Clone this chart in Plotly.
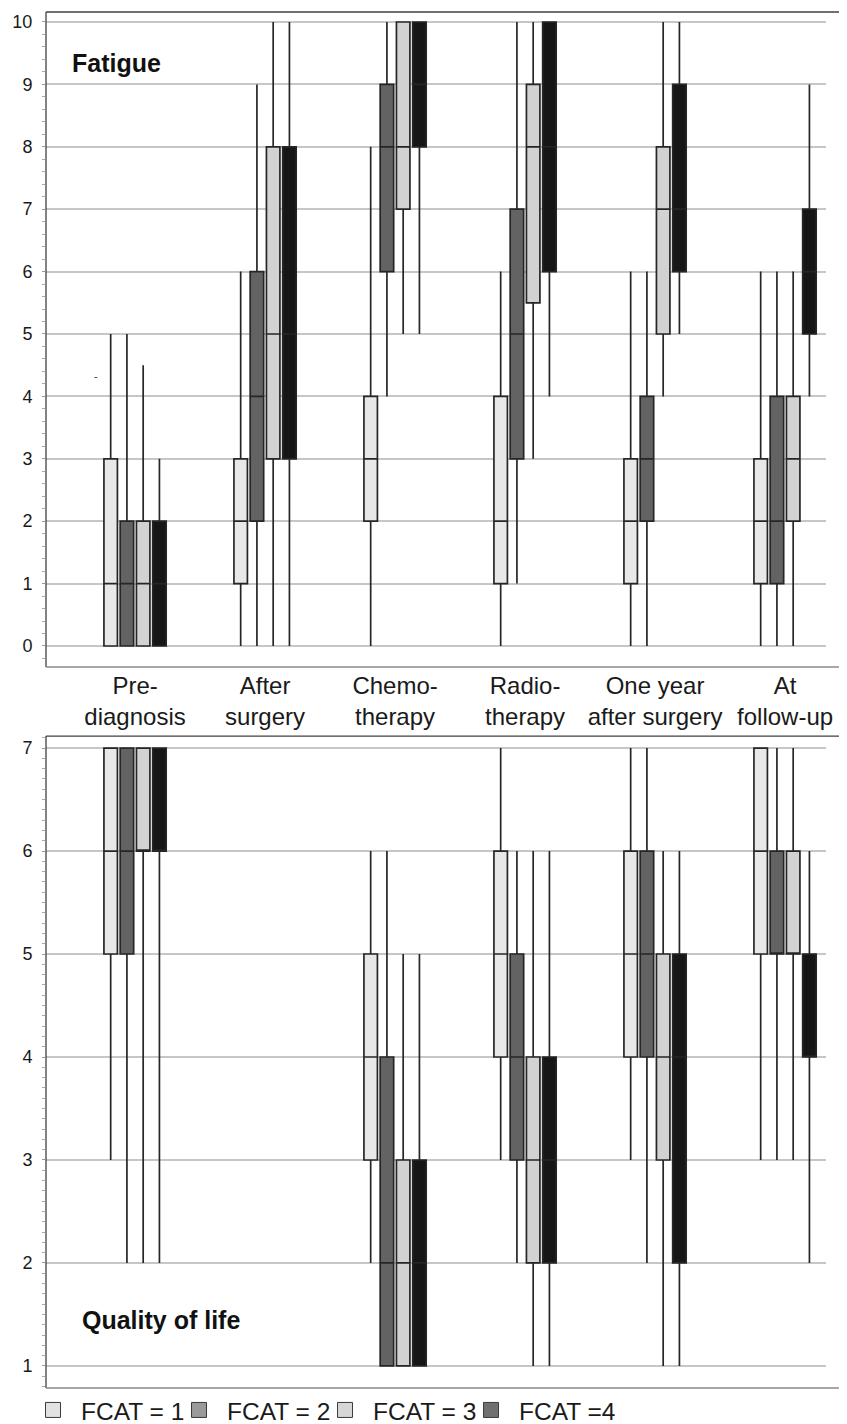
import plotly.graph_objects as go

# ---------------- data ----------------
categories = ["Pre-<br>diagnosis", "After<br>surgery", "Chemo-<br>therapy",
              "Radio-<br>therapy", "One year<br>after surgery", "At<br>follow-up"]
positions = [0, 1, 2, 3, 4, 5]
fcat_names = ["FCAT = 1", "FCAT = 2", "FCAT = 3", "FCAT =4"]

# Fatigue (0-10), one list per FCAT group, one value per category
fat_low = [[0, 0, 0, 0, 0, 0], [0, 0, 4, 1, 0, 0], [0, 0, 5, 3, 4, 0], [0, 0, 5, 4, 5, 4]]
fat_q1 = [[0, 1, 2, 1, 1, 1], [0, 2, 6, 3, 2, 1], [0, 3, 7, 5.5, 5, 2], [0, 3, 8, 6, 6, 5]]
fat_med = [[1, 2, 3, 2, 2, 2], [1, 4, 8, 5, 3, 2], [1, 5, 8, 8, 7, 3], [1, 5, 9, 8, 7, 6]]
fat_q3 = [[3, 3, 4, 4, 3, 3], [2, 6, 9, 7, 4, 4], [2, 8, 10, 9, 8, 4], [2, 8, 10, 10, 9, 7]]
fat_high = [[5, 6, 8, 6, 6, 6], [5, 9, 10, 10, 6, 6], [4.5, 10, 10, 10, 10, 6], [3, 10, 10, 10, 10, 9]]

# Quality of life (1-7); no data after surgery
qol_low = [[3, None, 2, 3, 3, 3], [2, None, 1, 2, 2, 3], [2, None, 1, 1, 1, 3], [2, None, 1, 1, 1, 2]]
qol_q1 = [[5, None, 3, 4, 4, 5], [5, None, 1, 3, 4, 5], [6, None, 1, 2, 3, 5], [6, None, 1, 2, 2, 4]]
qol_med = [[6, None, 4, 5, 5, 6], [6, None, 2, 4, 5, 5], [6, None, 2, 3, 4, 5], [6, None, 2, 3, 4, 4]]
qol_q3 = [[7, None, 5, 6, 6, 7], [7, None, 4, 5, 6, 6], [7, None, 3, 4, 5, 6], [7, None, 3, 4, 5, 5]]
qol_high = [[7, None, 6, 7, 7, 7], [7, None, 6, 6, 7, 7], [7, None, 5, 6, 6, 7], [7, None, 5, 6, 6, 6]]

fat_ticks = list(range(0, 11))
qol_ticks = list(range(1, 8))

# ---------------- styles ----------------
box_fill = ["#e8e8e8", "#636363", "#d2d2d2", "#161616"]
legend_fill = ["#e2e2e2", "#9a9a9a", "#d6d6d6", "#707070"]
legend_widths = [85, 85, 85, 120]
FONT = "Liberation Sans, Arial, sans-serif"

fig = go.Figure()


def add_boxes(low, q1, med, q3, high, xref, yref, group):
    for g in range(4):
        idx = [i for i in range(len(positions)) if q1[g][i] is not None]
        fig.add_trace(go.Box(
            x=[positions[i] for i in idx],
            lowerfence=[low[g][i] for i in idx],
            q1=[q1[g][i] for i in idx],
            median=[med[g][i] for i in idx],
            q3=[q3[g][i] for i in idx],
            upperfence=[high[g][i] for i in idx],
            name=fcat_names[g], showlegend=False,
            alignmentgroup=group, offsetgroup=str(g),
            fillcolor=box_fill[g],
            line=dict(color="#262626", width=1.7),
            whiskerwidth=0, boxpoints=False, hoverinfo="skip",
            xaxis=xref, yaxis=yref,
        ))


add_boxes(fat_low, fat_q1, fat_med, fat_q3, fat_high, "x", "y", "fatigue")
add_boxes(qol_low, qol_q1, qol_med, qol_q3, qol_high, "x2", "y2", "qol")

# legend swatches
for g in range(4):
    fig.add_trace(go.Scatter(
        x=[None], y=[None], mode="markers", name=fcat_names[g],
        marker=dict(symbol="square", size=15, color=legend_fill[g],
                    line=dict(color="#3a3a3a", width=1)),
        xaxis="x", yaxis="y", showlegend=True, legendwidth=legend_widths[g],
    ))

xr = [-0.685, 5.315]
common_y = dict(
    showgrid=True, gridcolor="#c6c6c6", gridwidth=1.5, zeroline=False,
    ticks="outside", ticklen=3, tickcolor="#999", tickwidth=1,
    tickfont=dict(family=FONT, size=18, color="#1a1a1a"),
    ticklabelstandoff=6, showline=False,
)

# page body has an 8px margin, so the figure is sized/offset to compensate
fig.update_layout(
    width=839, height=1416,
    margin=dict(l=38, r=21, t=4, b=36, autoexpand=False),
    paper_bgcolor="white", plot_bgcolor="white",
    boxmode="group", boxgap=0.5, boxgroupgap=0.17,
    font=dict(family=FONT, color="#1a1a1a"),
    xaxis=dict(domain=[0, 1], anchor="y", range=xr, tickmode="array",
               tickvals=positions, ticktext=categories, showgrid=False,
               zeroline=False, ticks="", showline=False, ticklabelstandoff=2,
               tickfont=dict(family=FONT, size=24, color="#1a1a1a")),
    yaxis=dict(domain=[0.524, 1], anchor="x", range=[-0.3365, 10.16],
               tickvals=fat_ticks,
               minor=dict(ticks="outside", ticklen=3, tickcolor="#aaa", dtick=0.2, showgrid=False),
               **common_y),
    xaxis2=dict(domain=[0, 1], anchor="y2", range=xr, showticklabels=False,
                showgrid=False, zeroline=False, ticks="", showline=False),
    yaxis2=dict(domain=[0, 0.4738], anchor="x2", range=[0.786, 7.1165],
                tickvals=qol_ticks,
                minor=dict(ticks="outside", ticklen=3, tickcolor="#aaa", dtick=0.1, showgrid=False),
                **common_y),
    legend=dict(orientation="h", x=-0.0269, xanchor="left", y=-0.016, yanchor="middle",
                font=dict(family=FONT, size=24.5, color="#1a1a1a"),
                itemwidth=46, bgcolor="rgba(0,0,0,0)", tracegroupgap=0),
    showlegend=True,
)

# frames (gridlines stop short of the right frame edge)
right = 1.0244
for xa, ya in (("x", "y"), ("x2", "y2")):
    xd, yd = xa + " domain", ya + " domain"
    fig.add_shape(type="line", xref=xd, yref=yd, x0=0, x1=right, y0=1, y1=1,
                  line=dict(color="#404040", width=1.3))
    fig.add_shape(type="line", xref=xd, yref=yd, x0=0, x1=0, y0=0, y1=1,
                  line=dict(color="#404040", width=1.3))
    fig.add_shape(type="line", xref=xd, yref=yd, x0=0, x1=right, y0=0, y1=0,
                  line=dict(color="#8a8a8a", width=1.3))
    fig.add_shape(type="line", xref=xd, yref=yd, x0=right, x1=right, y0=0, y1=1,
                  line=dict(color="#9a9a9a", width=1.3))

fig.add_annotation(text="<b>Fatigue</b>", xref="x domain", yref="y", x=0.09, y=9.34,
                   xanchor="center", yanchor="middle", showarrow=False,
                   font=dict(family=FONT, size=25, color="#111"))
fig.add_annotation(text="<b>Quality of life</b>", xref="x2 domain", yref="y2", x=0.1468, y=1.45,
                   xanchor="center", yanchor="middle", showarrow=False,
                   font=dict(family=FONT, size=25, color="#111"))
fig.add_annotation(text="-", xref="x", yref="y", x=-0.3, y=4.33, showarrow=False,
                   font=dict(family=FONT, size=11, color="#333"))

fig.write_html("out.html")
